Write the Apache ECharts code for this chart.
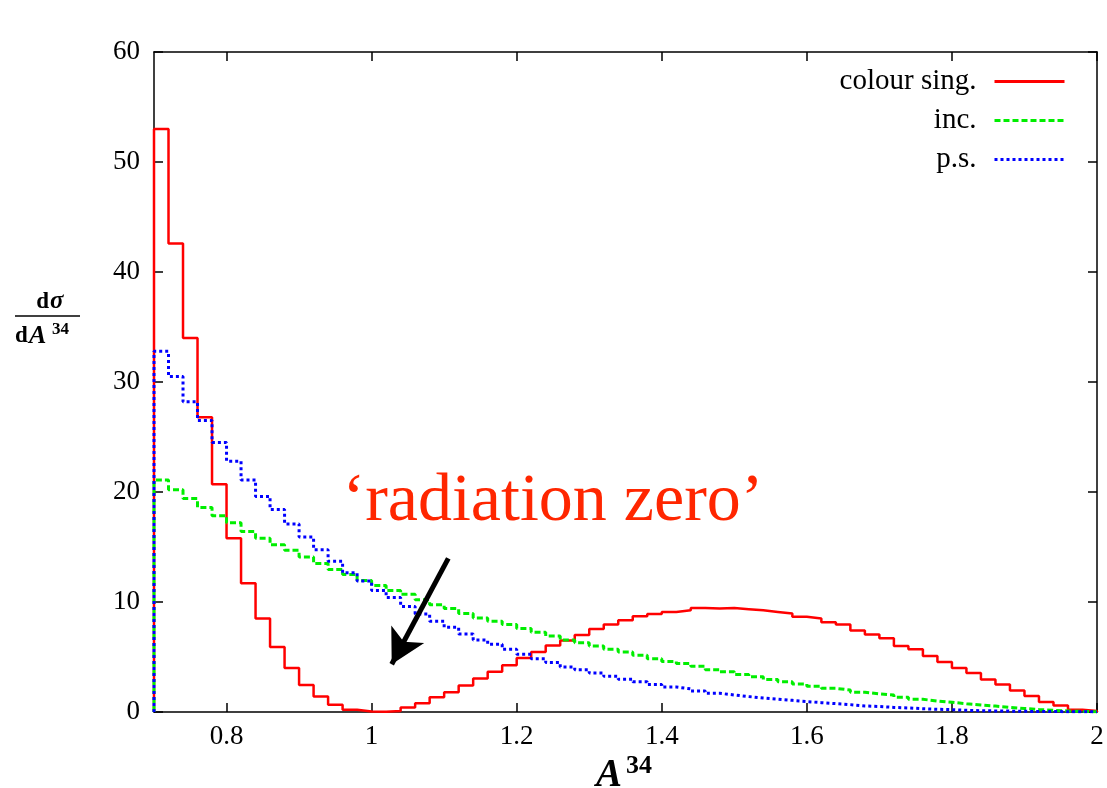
<!DOCTYPE html>
<html><head><meta charset="utf-8">
<script src="https://cdn.jsdelivr.net/npm/echarts@6/dist/echarts.min.js"></script>
<style>html,body{margin:0;padding:0;background:#fff}#c{width:1107px;height:788px}</style>
</head><body><div id="c"></div>
<script>
// Histogram bins: 0.70 .. 2.00, width 0.02 (65 bins)
const binStart = 0.70, binWidth = 0.02, binEnd = 2.00;
const seriesNames = ['colour sing.', 'inc.', 'p.s.'];
const colourSing = [53.0, 42.6, 34.0, 26.8, 20.7, 15.8, 11.7, 8.5, 5.9, 4.0,
  2.45, 1.4, 0.65, 0.2, 0.05, 0.02, 0.1, 0.4, 0.8, 1.35,
  1.8, 2.4, 3.05, 3.65, 4.25, 4.9, 5.45, 6.05, 6.5, 7.0,
  7.55, 7.95, 8.35, 8.7, 8.9, 9.1, 9.25, 9.45, 9.4, 9.45,
  9.35, 9.25, 9.1, 8.95, 8.65, 8.5, 8.15, 7.95, 7.4, 7.05,
  6.7, 6.0, 5.7, 5.1, 4.55, 4.0, 3.55, 2.95, 2.5, 1.95,
  1.45, 0.9, 0.6, 0.2, 0.1];
const inc = [21.1, 20.2, 19.4, 18.6, 17.85, 17.2, 16.4, 15.8, 15.2, 14.7,
  14.1, 13.5, 12.95, 12.5, 11.95, 11.5, 11.05, 10.7, 10.2, 9.75,
  9.4, 8.95, 8.55, 8.25, 7.95, 7.6, 7.25, 6.9, 6.55, 6.3,
  6.0, 5.7, 5.45, 5.15, 4.85, 4.6, 4.4, 4.15, 3.85, 3.65,
  3.4, 3.2, 2.95, 2.75, 2.55, 2.35, 2.15, 2.0, 1.8, 1.65,
  1.55, 1.35, 1.15, 1.0, 0.88, 0.75, 0.64, 0.54, 0.42, 0.32,
  0.22, 0.15, 0.1, 0.05, 0.02];
const ps = [32.8, 30.5, 28.2, 26.5, 24.5, 22.8, 21.1, 19.6, 18.4, 17.1,
  15.9, 14.75, 13.7, 12.65, 11.9, 11.05, 10.4, 9.6, 8.9, 8.25,
  7.7, 7.1, 6.55, 6.15, 5.7, 5.25, 4.85, 4.5, 4.1, 3.85,
  3.55, 3.25, 2.97, 2.75, 2.5, 2.27, 2.1, 1.9, 1.7, 1.55,
  1.4, 1.27, 1.17, 1.06, 0.95, 0.85, 0.76, 0.67, 0.55, 0.5,
  0.42, 0.37, 0.3, 0.25, 0.21, 0.15, 0.12, 0.1, 0.08, 0.06,
  0.05, 0.04, 0.03, 0.02, 0.01];
const xTicks = [0.8, 1, 1.2, 1.4, 1.6, 1.8, 2];
const yMin = 0, yMax = 60, yStep = 10;
const annotationText = '\u2018radiation zero\u2019';
const arrowFrom = [1.1057, 13.96], arrowTo = [1.0277, 4.34];

function histogram(vals) {
  const pts = [[binStart, 0]];
  vals.forEach((v, i) => pts.push([Math.round((binStart + i * binWidth) * 100) / 100, v]));
  pts.push([binEnd, vals[vals.length - 1]]);
  pts.push([binEnd, 0]);
  return pts;
}

const FONT = 'Liberation Serif';
const chart = echarts.init(document.getElementById('c'), null, {renderer: 'canvas'});
const tickStyle = {color: '#000', width: 1.5};
const axisCommonX = {
  type: 'value', min: binStart, max: binEnd,
  axisLine: {show: true, onZero: false, lineStyle: tickStyle},
  axisTick: {show: true, inside: true, length: 9, customValues: xTicks, lineStyle: tickStyle},
  splitLine: {show: false}
};
const axisCommonY = {
  type: 'value', min: yMin, max: yMax, interval: yStep,
  axisLine: {show: true, onZero: false, lineStyle: tickStyle},
  axisTick: {show: true, inside: true, length: 9, lineStyle: tickStyle},
  splitLine: {show: false}
};

chart.setOption({
  animation: false,
  backgroundColor: '#fff',
  grid: {left: 154, right: 10, top: 52, bottom: 76, containLabel: false},
  legend: {
    orient: 'vertical', right: 36, top: 62, align: 'right',
    itemWidth: 70, itemHeight: 14, itemGap: 10,
    selectedMode: false,
    itemStyle: {opacity: 0, color: 'rgba(0,0,0,0)', borderWidth: 0},
    lineStyle: {width: 3},
    textStyle: {fontFamily: FONT, fontSize: 29, color: '#000', padding: [0, 13, 0, 0]},
    data: seriesNames
  },
  xAxis: [
    Object.assign({}, axisCommonX, {position: 'bottom',
      axisLabel: {customValues: xTicks, fontFamily: FONT, fontSize: 27, color: '#000', margin: 11}}),
    Object.assign({}, axisCommonX, {position: 'top', axisLabel: {show: false}})
  ],
  yAxis: [
    Object.assign({}, axisCommonY, {position: 'left',
      axisLabel: {fontFamily: FONT, fontSize: 27, color: '#000', margin: 14}}),
    Object.assign({}, axisCommonY, {position: 'right', axisLabel: {show: false}})
  ],
  series: [
    {
      name: seriesNames[0], type: 'line', step: 'end', symbol: 'none',
      data: histogram(colourSing),
      lineStyle: {color: '#ff0000', width: 2.5, type: 'solid'},
      itemStyle: {color: '#ff0000'},
      z: 2,
      markLine: {
        silent: true, symbol: ['none', 'arrow'], symbolSize: [28, 34],
        label: {show: false},
        lineStyle: {color: '#000', width: 5, type: 'solid'},
        itemStyle: {color: '#000'},
        emphasis: {disabled: true},
        animation: false,
        data: [[{coord: arrowFrom}, {coord: arrowTo}]]
      }
    },
    {
      name: seriesNames[1], type: 'line', step: 'end', symbol: 'none',
      data: histogram(inc),
      lineStyle: {color: '#00ee00', width: 3, type: [6, 3]},
      itemStyle: {color: '#00ee00'},
      z: 3
    },
    {
      name: seriesNames[2], type: 'line', step: 'end', symbol: 'none',
      data: histogram(ps),
      lineStyle: {color: '#0000ff', width: 3, type: [3, 3]},
      itemStyle: {color: '#0000ff'},
      z: 4
    }
  ],
  graphic: [
    {type: 'text', x: 553, y: 502, style: {text: annotationText, font: '68px "Liberation Serif"', fill: '#ff2600', align: 'center', verticalAlign: 'middle'}},
    // y-axis title: dσ / dA^34
    {type: 'text', x: 49, y: 302, style: {text: 'd', font: 'bold 23px "Liberation Serif"', fill: '#000', align: 'right', verticalAlign: 'middle'}},
    {type: 'text', x: 50, y: 302, style: {text: '\u03c3', font: 'italic bold 25px "Liberation Serif"', fill: '#000', align: 'left', verticalAlign: 'middle'}},
    {type: 'line', shape: {x1: 15, y1: 316, x2: 80, y2: 316}, style: {stroke: '#000', lineWidth: 1.5}},
    {type: 'text', x: 15, y: 336, style: {text: 'd', font: 'bold 23px "Liberation Serif"', fill: '#000', align: 'left', verticalAlign: 'middle'}},
    {type: 'text', x: 29, y: 336, style: {text: 'A', font: 'italic bold 26px "Liberation Serif"', fill: '#000', align: 'left', verticalAlign: 'middle'}},
    {type: 'text', x: 52, y: 330, style: {text: '34', font: 'bold 17px "Liberation Serif"', fill: '#000', align: 'left', verticalAlign: 'middle'}},
    // x-axis title: A^34
    {type: 'text', x: 596, y: 776, style: {text: 'A', font: 'italic bold 39px "Liberation Serif"', fill: '#000', align: 'left', verticalAlign: 'middle'}},
    {type: 'text', x: 626, y: 766, style: {text: '34', font: 'bold 26px "Liberation Serif"', fill: '#000', align: 'left', verticalAlign: 'middle'}}
  ]
});
</script>
</body></html>
